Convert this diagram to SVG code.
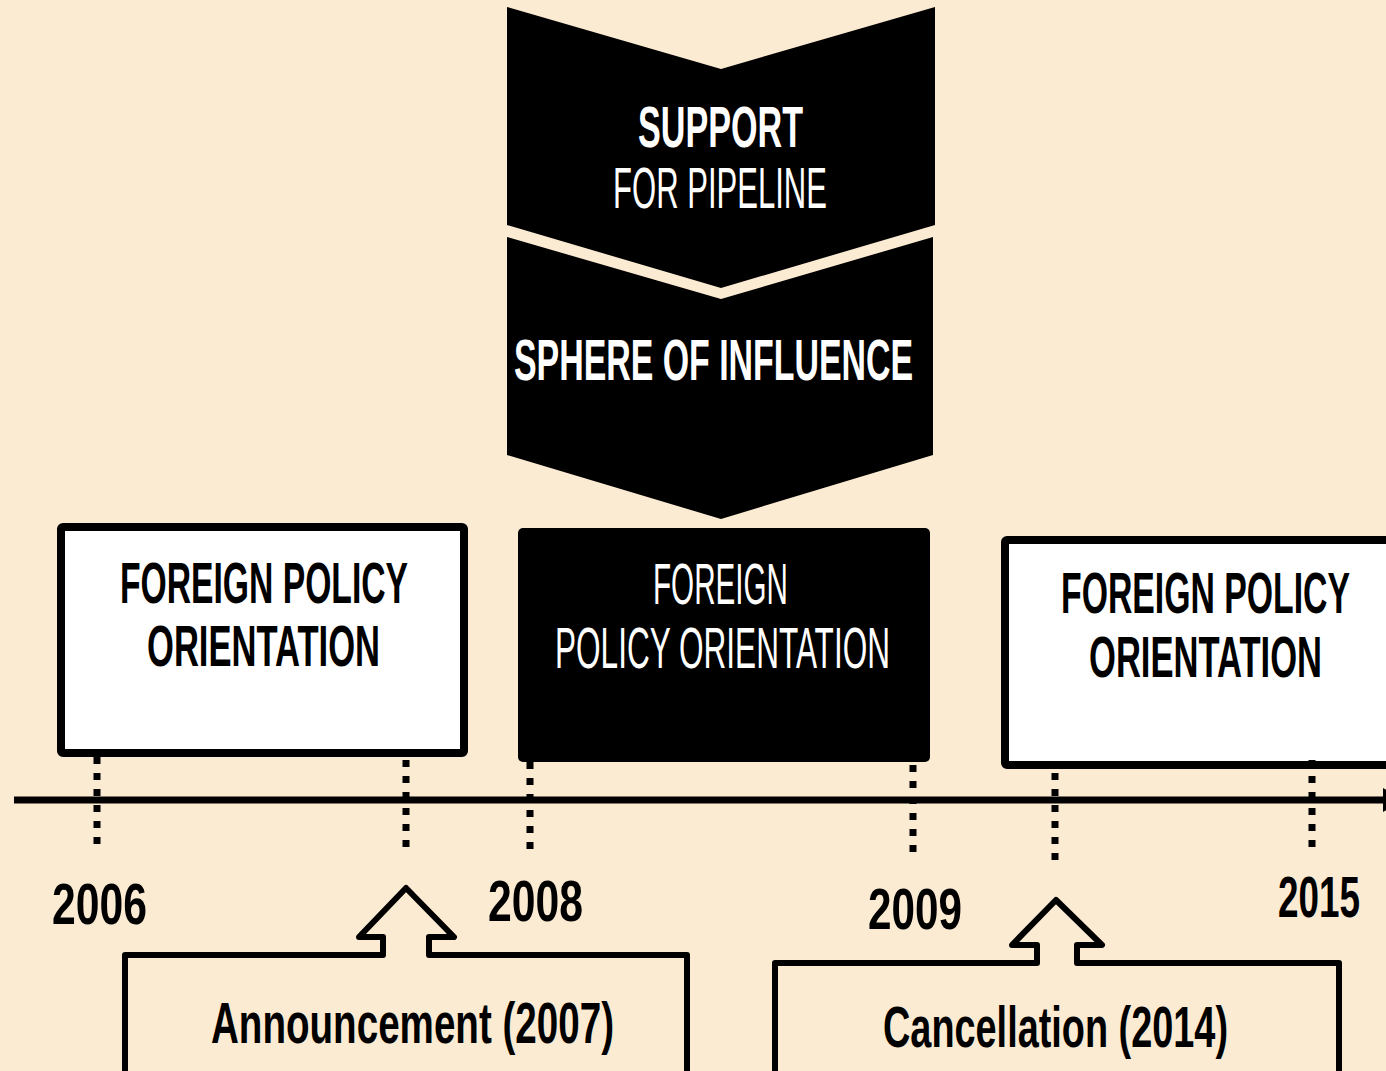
<svg xmlns="http://www.w3.org/2000/svg" width="1386" height="1071" viewBox="0 0 1386 1071">
<style>
.t{font-family:"Liberation Sans",Arial,sans-serif;font-size:57px}
.b{font-weight:bold}
.n{font-weight:normal}
.w{fill:#ffffff}
.k{fill:#000000}
.m{text-anchor:middle}
.e{text-anchor:end}
.dot{stroke:#000;stroke-width:7;stroke-dasharray:7 9;fill:none}
.box{fill:#ffffff;stroke:#000;stroke-width:8}
.call{fill:none;stroke:#000;stroke-width:6;stroke-linejoin:round}
</style>
<rect x="0" y="0" width="1386" height="1071" fill="#FCEBD3"/>

<g id="chevron-support">
<polygon points="507,7 721,69 935,7 935,225 721,288 507,225" fill="#000"/>
<text class="t b w m" x="720.5" y="147" font-size="56" textLength="165" lengthAdjust="spacingAndGlyphs">SUPPORT</text>
<text class="t n w m" x="720" y="208" font-size="56" textLength="214" lengthAdjust="spacingAndGlyphs">FOR PIPELINE</text>
</g>

<g id="chevron-sphere">
<polygon points="507,237 721,299 933,237 933,455 721,519 507,455" fill="#000"/>
<text class="t b w m" x="713.5" y="380" textLength="399" lengthAdjust="spacingAndGlyphs">SPHERE OF INFLUENCE</text>
</g>

<g id="box-left">
<rect class="box" x="61" y="527" width="403" height="226" rx="2"/>
<text class="t b k m" x="264" y="603" font-size="58" textLength="288" lengthAdjust="spacingAndGlyphs">FOREIGN POLICY</text>
<text class="t b k m" x="263.5" y="666" font-size="58" textLength="233" lengthAdjust="spacingAndGlyphs">ORIENTATION</text>
</g>

<g id="box-middle">
<rect x="518" y="528" width="412" height="234" rx="5" fill="#000"/>
<text class="t n w m" x="720.5" y="604" font-size="56" textLength="135" lengthAdjust="spacingAndGlyphs">FOREIGN</text>
<text class="t n w m" x="722.5" y="668" font-size="56" textLength="335" lengthAdjust="spacingAndGlyphs">POLICY ORIENTATION</text>
</g>

<g id="box-right">
<rect class="box" x="1005" y="540" width="390" height="225" rx="2"/>
<text class="t b k m" x="1205.5" y="613" font-size="56" textLength="289" lengthAdjust="spacingAndGlyphs">FOREIGN POLICY</text>
<text class="t b k m" x="1205.5" y="677" font-size="56" textLength="233" lengthAdjust="spacingAndGlyphs">ORIENTATION</text>
</g>

<g id="connectors">
<line x1="14" y1="800" x2="1384" y2="800" stroke="#000" stroke-width="7"/>
<polygon points="1383,788 1383,812 1405,800" fill="#000"/>
<line class="dot" x1="97" y1="757" x2="97" y2="844"/>
<line class="dot" x1="406" y1="760" x2="406" y2="848"/>
<line class="dot" x1="530" y1="762" x2="530" y2="849"/>
<line class="dot" x1="913" y1="765" x2="913" y2="853"/>
<line class="dot" x1="1055" y1="773" x2="1055" y2="861"/>
<line class="dot" x1="1312" y1="760" x2="1312" y2="848"/>
</g>

<g id="year-labels">
<text class="t b k m" x="99.5" y="924" textLength="95" lengthAdjust="spacingAndGlyphs">2006</text>
<text class="t b k m" x="535.5" y="921" textLength="95" lengthAdjust="spacingAndGlyphs">2008</text>
<text class="t b k m" x="915" y="929" textLength="94" lengthAdjust="spacingAndGlyphs">2009</text>
<text class="t b k e" x="1360" y="917" textLength="82" lengthAdjust="spacingAndGlyphs">2015</text>
</g>

<g id="callout-announcement">
<path class="call" d="M125 1080 L125 955 L383 955 L383 937 L359 937 L406 888 L454 937 L429 937 L429 955 L687 955 L687 1080"/>
<text class="t b k m" x="412.5" y="1043" textLength="403" lengthAdjust="spacingAndGlyphs">Announcement (2007)</text>
</g>

<g id="callout-cancellation">
<path class="call" d="M775 1080 L775 963 L1037 963 L1037 945 L1012 945 L1056 900 L1102 945 L1077 945 L1077 963 L1339 963 L1339 1080"/>
<text class="t b k m" x="1055.5" y="1047" textLength="345" lengthAdjust="spacingAndGlyphs">Cancellation (2014)</text>
</g>
</svg>
